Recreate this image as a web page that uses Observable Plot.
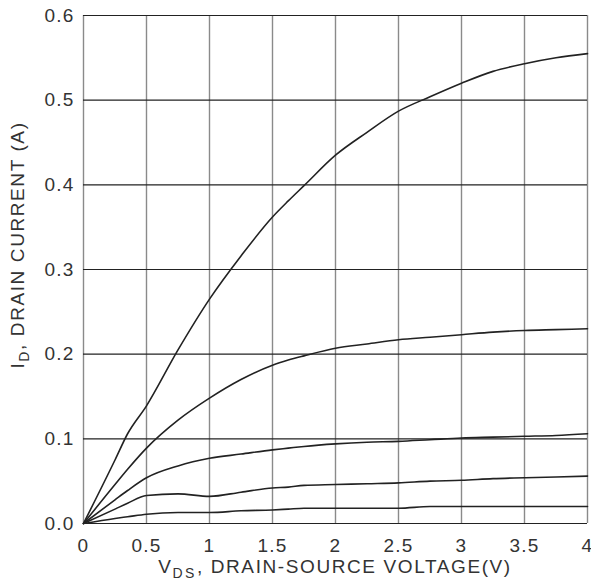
<!DOCTYPE html>
<html>
<head>
<meta charset="utf-8">
<script src="https://cdn.jsdelivr.net/npm/d3@7"></script>
<script src="https://cdn.jsdelivr.net/npm/@observablehq/plot@0.6"></script>
<style>
  html, body { margin: 0; padding: 0; background: #fff; }
  #chart { width: 591px; height: 582px; }
</style>
</head>
<body>
<div id="chart"></div>
<script>
// Drain-source voltage (V)
const vds = [0, 0.25, 0.35, 0.5, 0.75, 1, 1.25, 1.5, 1.625, 1.75, 2, 2.25, 2.5, 2.75, 3, 3.25, 3.5, 3.75, 4];
// Drain current curves (A)
const curve1 = [0, 0.075, 0.106, 0.139, 0.205, 0.265, 0.316, 0.362, 0.381, 0.399, 0.435, 0.462, 0.487, 0.504, 0.520, 0.534, 0.543, 0.550, 0.555];
const curve2 = [0, 0.046, 0.064, 0.089, 0.122, 0.148, 0.170, 0.187, 0.193, 0.198, 0.207, 0.212, 0.217, 0.220, 0.223, 0.226, 0.228, 0.229, 0.230];
const curve3 = [0, 0.028, 0.039, 0.054, 0.068, 0.077, 0.082, 0.087, 0.089, 0.091, 0.094, 0.096, 0.097, 0.099, 0.101, 0.102, 0.103, 0.104, 0.106];
const curve4 = [0, 0.017, 0.024, 0.033, 0.035, 0.032, 0.037, 0.042, 0.043, 0.045, 0.046, 0.047, 0.048, 0.050, 0.051, 0.053, 0.054, 0.055, 0.056];
const curve5 = [0, 0.006, 0.008, 0.011, 0.013, 0.013, 0.015, 0.016, 0.017, 0.018, 0.018, 0.018, 0.018, 0.020, 0.020, 0.020, 0.020, 0.020, 0.020];
const xTicks = [0, 0.5, 1, 1.5, 2, 2.5, 3, 3.5, 4];
const yTicks = [0, 0.1, 0.2, 0.3, 0.4, 0.5, 0.6];
const xTickLabels = ["0", "0.5", "1", "1.5", "2", "2.5", "3", "3.5", "4"];
const yTickLabels = ["0.0", "0.1", "0.2", "0.3", "0.4", "0.5", "0.6"];

const series = [curve1, curve2, curve3, curve4, curve5];
const data = series.flatMap((s, k) => s.map((v, i) => ({x: vds[i], y: v, k})));

const font = "'Liberation Sans', Arial, sans-serif";
const plot = Plot.plot({
  width: 591,
  height: 582,
  marginLeft: 83,
  marginRight: 4,
  marginTop: 15,
  marginBottom: 59,
  style: {fontFamily: font, fontSize: "19px", color: "#333", background: "#fff"},
  x: {domain: [0, 4], label: null},
  y: {domain: [0, 0.6], label: null},
  marks: [
    Plot.ruleX(xTicks, {stroke: "#8a8a8a", strokeWidth: 1.4}),
    Plot.ruleY(yTicks, {stroke: "#222", strokeWidth: 1.2}),
    Plot.line(data, {x: "x", y: "y", z: "k", stroke: "#222", strokeWidth: 1.6, curve: "monotone-x"}),
    Plot.axisX(xTicks, {tickFormat: (d, i) => xTickLabels[i], tickSize: 0, tickPadding: 15, fontSize: 19, fill: "#333", label: null}),
    Plot.axisY(yTicks, {tickFormat: (d, i) => yTickLabels[i], tickSize: 0, tickPadding: 9, fontSize: 19, fill: "#333", label: null})
  ]
});
document.getElementById("chart").appendChild(plot);

const svg = d3.select(plot);
svg.selectAll("[aria-label='x-axis tick label'], [aria-label='y-axis tick label']")
  .attr("font-size", 19).style("font-size", "19px");
svg.selectAll("[aria-label='x-axis tick label'] text, [aria-label='y-axis tick label'] text")
  .attr("letter-spacing", 1.2).style("font-size", "19px");
// x axis title with subscript
const xt = svg.append("text")
  .attr("x", 335).attr("y", 573)
  .attr("text-anchor", "middle")
  .attr("font-family", font).style("font-size", "19px").attr("letter-spacing", 1.6).attr("fill", "#333");
xt.append("tspan").text("V");
xt.append("tspan").attr("dy", 5).style("font-size", "14px").attr("letter-spacing", 2.5).text("DS");
xt.append("tspan").attr("dy", -5).text(", DRAIN-SOURCE VOLTAGE(V)");
// y axis title with subscript
const yt = svg.append("text")
  .attr("transform", "translate(24,245) rotate(-90)")
  .attr("text-anchor", "middle")
  .attr("font-family", font).style("font-size", "19px").attr("letter-spacing", 1.6).attr("fill", "#333");
yt.append("tspan").text("I");
yt.append("tspan").attr("dy", 5).style("font-size", "14px").text("D");
yt.append("tspan").attr("dy", -5).text(", DRAIN CURRENT (A)");
</script>
</body>
</html>
